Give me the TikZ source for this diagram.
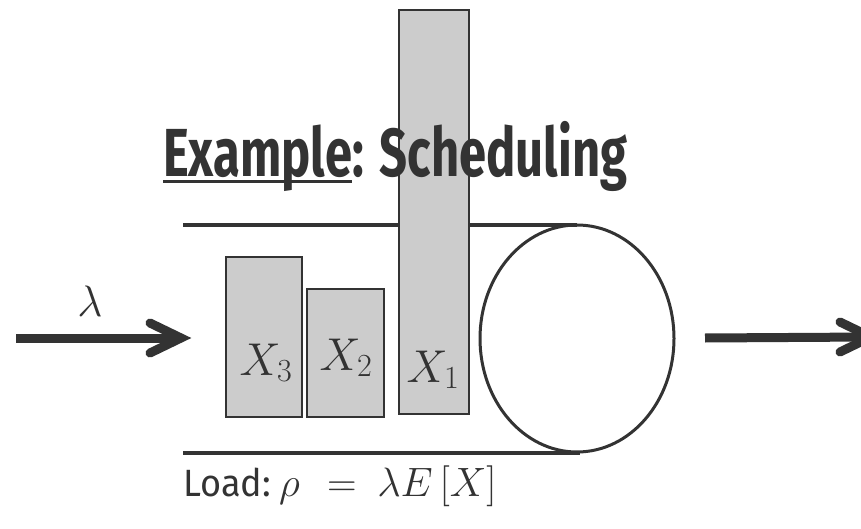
\documentclass[tikz,border=0pt]{standalone}
\usepackage{fix-cm}
\usepackage{fontspec}
\newfontfamily\titlefont[FakeStretch=0.72]{Fira Sans}
\newfontfamily\loadfont[FakeStretch=0.95]{Fira Sans}
\definecolor{ink}{HTML}{333333}
\definecolor{boxgray}{HTML}{CCCCCC}
\usetikzlibrary{shapes.geometric}
\tikzset{
  jobbox/.style={draw=ink, fill=boxgray, line width=2.2pt, rectangle, inner sep=0pt},
  queueline/.style={draw=ink, line width=3.5pt},
  server/.style={draw=ink, line width=3pt, ellipse, inner sep=0pt},
  flowshaft/.style={draw=ink, line width=9pt, line cap=butt},
  flowhead/.style={draw=ink, line width=9pt, line cap=round, line join=miter},
  joblabel/.style={text=ink, inner sep=0pt, font=\fontsize{46}{50}\selectfont},
  loadtext/.style={anchor=base west, inner sep=0pt, text=ink},
}
\begin{document}
\begin{tikzpicture}[x=1pt,y=-1pt]
\useasboundingbox (0,0) rectangle (861,529);
\clip (0,0) rectangle (861,529);
% queue lines
\coordinate (qtl) at (183,225);
\coordinate (qtr) at (577,225);
\coordinate (qbl) at (183,453);
\coordinate (qbr) at (580,453);
\draw[queueline] (qtl) -- (qtr);
\draw[queueline] (qbl) -- (qbr);
% server
\node[server, minimum width=194, minimum height=227] (srv) at (577,338.5) {};
% jobs
\node[jobbox, minimum width=76, minimum height=160] (j3) at (264,337) {};
\node[jobbox, minimum width=77, minimum height=128] (j2) at (345.5,353) {};
\node[jobbox, minimum width=70, minimum height=404] (j1) at (434,212) {};
\node[joblabel, anchor=base] (l3) at (266,375) {$X_3$};
\node[joblabel, anchor=base] (l2) at (346,370) {$X_2$};
\node[joblabel, anchor=base] (l1) at (433,382) {$X_1$};
% title
\node[anchor=base west, inner sep=0pt, text=ink, font=\titlefont\bfseries\fontsize{68}{70}\selectfont] (ex) at (163,177) {Example};
\node[anchor=base west, inner sep=0pt, text=ink, font=\titlefont\bfseries\fontsize{68}{70}\selectfont] (sch) at (ex.base east) {: Scheduling};
\draw[ink, line width=3pt] ([yshift=-4.5pt]ex.base west) -- ([yshift=-4.5pt]ex.base east);
% arrival arrow
\coordinate (ina) at (16,338);
\coordinate (inb) at (181,338);
\draw[flowshaft] (ina) -- (inb);
\draw[flowhead] ([shift={(-31,-15)}]inb) -- (inb) -- ([shift={(-31,15)}]inb);
\node[text=ink, anchor=base, inner sep=0pt, font=\fontsize{44}{46}\selectfont] (lam) at (90,316) {$\lambda$};
% departure arrow
\coordinate (outa) at (705,338);
\coordinate (outb) at (871,337);
\draw[flowshaft] (outa) -- (outb);
\draw[flowhead] ([shift={(-31,-15)}]outb) -- (outb) -- ([shift={(-31,15)}]outb);
% load
\node[loadtext, font=\loadfont\fontsize{38}{40}\selectfont] (load) at (183,496) {Load:};
\node[loadtext, font=\fontsize{41}{43}\selectfont] (rho) at (279,496) {$\rho\mskip 7mu=\mskip 4mu\lambda E\,[X]$};
\end{tikzpicture}
\end{document}
